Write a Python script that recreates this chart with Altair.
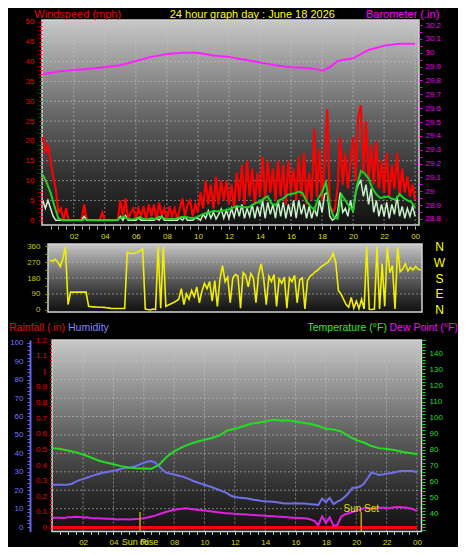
import altair as alt
import pandas as pd

# ------------------------------------------------------------------ texts
MAIN_TITLE = "24 hour graph day : June 18 2026"
WIND_TITLE = "Windspeed (mph)"
BARO_TITLE = "Barometer (.in)"
RAIN_TITLE = "Rainfall (.in)"
HUM_TITLE = "Humidity"
TEMP_TITLE = "Temperature (°F)"
DEW_TITLE = "Dew Point (°F)"

# ------------------------------------------------------------------ data
# wind gust (mph), 10-minute samples 00:00 .. 24:00
GUST_MPH = [21, 17, 19, 15, 11, 8, 2, 3, 0, 3, 0, 0, 0, 0, 0, 0, 4, 0, 0, 0, 0, 0, 0, 2, 0, 0, 0, 0, 0, 0,
            5, 1, 5.5, 0, 2, 3, 0, 3, 1, 3.5, 0, 4, 1, 4, 0, 4.5, 1, 3, 0, 3.5, 1, 3, 0, 3, 5.5, 1, 4, 5, 1, 4,
            2, 7, 3, 10, 4, 9, 3, 11, 4, 10, 5, 10, 4, 9, 3, 12, 5, 14, 4, 15, 6, 13, 4, 12, 6, 16, 5, 15, 7, 13,
            5, 15, 6, 14, 4, 15, 7, 13, 5, 16, 6, 17, 4, 12, 5, 23, 6, 18, 5, 14, 28, 4, 2, 3, 8, 21, 9, 17, 8, 15,
            21, 10, 26, 29, 12, 25, 10, 19, 9, 20, 8, 15, 7, 17, 6, 14, 8, 17, 6, 13, 7, 11, 6, 9, 5]
# wind speed (mph), 10-minute samples
WIND_MPH = [5, 3, 5, 3, 1, 0, 0, 0, 0, 0, 0, 0, 0, 0, 0, 0, 1, 0, 0, 0, 0, 0, 0, 0, 0, 0, 0, 0, 0, 0,
            1, 0, 1.2, 0, 0, 0, 0, 0.6, 0, 0, 0, 0, 0, 0, 0.5, 0, 1, 0, 0, 0, 0, 0, 0, 0.6, 0, 0.8, 0, 0, 0, 0.5,
            0.5, 0, 1.5, 0.5, 2.4, 0.5, 2, 0.3, 1.5, 2.8, 0.5, 2.5, 0.5, 3, 0.8, 3.5, 1, 4, 0.5, 3, 1, 4, 0.5, 3.5, 1, 5, 0.5, 4.5, 1.5, 4,
            0.5, 5, 1, 4.5, 0.5, 4, 1, 5, 0.5, 5, 1.5, 4, 0.5, 3.5, 0.5, 3, 1, 5, 2, 6.5, 7, 1, 0, 0.5, 2, 7, 2, 3, 1, 5,
            2, 7, 9, 10, 6, 9, 4, 8, 2, 5, 1, 4, 1, 4.5, 0.5, 4, 1.5, 6, 1, 3.5, 0.5, 3, 1, 3.5, 1]
# average wind (mph), 15-minute samples
AVG_MPH = [11.5, 9.5, 7, 3.6, 0.5, 0, 0, 0, 0, 0, 0, 0.3, 0, 0, 0, 0, 0, 0, 0, 0,
           0.6, 0.9, 0.3, 0.2, 0.4, 0.8, 0.3, 0.2, 0.5, 0.3, 0.9, 0.6, 0.2, 0.4, 0.3, 0.6, 0.9, 0.8, 0.6, 0.5,
           0.9, 1.4, 1.8, 2.0, 2.4, 2.2, 2.4, 2.5, 2.7, 3.2, 3.6, 3.4, 3.3, 3.2, 3.8, 4.4, 4.6, 5.5, 6.0, 4.2,
           3.8, 5.0, 5.5, 6.4, 6.6, 6.8, 7.2, 6.8, 4.8, 3.5, 2.6, 5.5, 7.0, 9.6, 3.5, 0.8, 0.4, 6.5, 5.0, 3.5,
           2.4, 8.8, 12.4, 11.8, 10.5, 8.0, 6.5, 5.6, 5.8, 6.0, 5.4, 5.2, 6.6, 5.6, 5.0, 4.6, 3.2]
# barometer (in)
BARO_HOURS = [0, 1, 2, 3, 4, 5, 6, 7, 8, 9, 10, 11, 12, 13, 14, 15, 16, 17, 17.5, 18, 18.5, 19, 20, 21, 22, 23, 24]
BARO_IN = [29.845, 29.865, 29.875, 29.885, 29.895, 29.91, 29.94, 29.97, 29.99, 30.0, 30.0, 29.98, 29.97, 29.95,
           29.93, 29.91, 29.895, 29.89, 29.885, 29.87, 29.895, 29.94, 29.96, 30.02, 30.05, 30.065, 30.065]
# wind direction (deg), 10-minute samples
DIR_DEG = [280, 275, 285, 270, 245, 290, 355, 30, 100, 100, 100, 100, 100, 100, 100, 20, 18, 17, 16, 15,
           15, 14, 12, 10, 8, 8, 8, 8, 8, 8,
           325, 320, 318, 320, 325, 335, 345, 5, 2, 0, 5, 2, 358, 10, 355, 20, 28, 35, 42, 50,
           60, 120, 30, 90, 60, 110, 75, 130, 40, 105,
           150, 120, 160, 50, 165, 20, 175, 250, 160, 185, 40, 180, 200, 190, 10, 210, 195, 130, 205, 180,
           40, 200, 260, 175, 30, 190, 160, 200, 20, 175,
           150, 185, 10, 180, 160, 195, 40, 170, 180, 5, 165, 190, 200, 215, 225, 240, 250, 260, 270, 290,
           320, 265, 110, 90, 60, 30, 15, 70, 10, 50,
           8, 60, 5, 358, 3, 2, 5, 355, 5, 260, 20, 355, 210, 250, 5, 355, 215, 230, 260, 220,
           240, 225, 245, 230, 225]
# temperature (F), 30-minute samples
TEMP_F = [81, 80.5, 79.5, 78.5, 77, 75.2, 73.3, 72, 71, 69.8, 69, 68.5, 68.3, 68.1, 70.5, 75.5, 79, 81.5, 83.5,
          85, 86.2, 87.3, 89, 92, 93, 94.5, 96, 96.8, 97.6, 98.6, 98.2, 98.3, 97.6, 96.8, 96, 94.8, 93, 92.6,
          91.4, 88.5, 86, 84.5, 82.3, 81, 80.5, 79.8, 78.8, 78, 77.3]
# humidity (%), 15-minute samples
HUM_PCT = [23, 23, 23, 23, 23, 23.5, 24.5, 25.5, 26, 26.8, 27.5, 28.2, 28.8, 29.5, 29.8, 30.2, 30.5, 31, 31.6, 32,
           32.2, 32.6, 33.2, 34, 34.8, 35.6, 35.8, 35, 33, 31, 29.5, 29, 28.5, 28, 27.5, 26.8, 26, 25, 24.3, 23.6,
           23, 22.3, 21.6, 20.8, 20, 19.2, 18.3, 17, 16.3, 16, 15.8, 15.6, 15.2, 14.8, 14.5, 14.2, 14, 13.9, 13.7, 13.5,
           13.2, 12.8, 12.8, 12.8, 12.9, 12.8, 12.8, 12.6, 12.4, 12.2, 12, 15.5, 13.5, 15.8, 12.5, 13.8, 14.8, 16.5, 18.5, 21.3,
           21.3, 22, 23.5, 26.5, 29.5, 29, 28.3, 28.5, 29, 29.2, 29.6, 30.2, 30.4, 30.4, 30.4, 30.4, 29.7]
# dew point (F), 15-minute samples
DEW_F = [37.7, 37.6, 37.7, 37.5, 37.9, 38, 38.3, 38.2, 37.8, 37.9, 37.5, 37.3, 37.4, 37.2, 37, 37.1, 36.9, 36.6, 36.8, 36.7,
         36.6, 36.8, 36.9, 37, 37.4, 37.8, 38.4, 39, 39.8, 40.6, 41.4, 42, 42.6, 43, 43.3, 43.5, 43.2, 42.9, 42.6, 42.4,
         42.2, 41.8, 41.5, 41.2, 41.0, 40.6, 40.4, 40.3, 40.1, 40, 39.9, 39.7, 39.5, 39.4, 39.2, 39.1, 38.9, 38.8, 38.6, 38.4,
         38.3, 38.1, 37.9, 37.7, 37.6, 37.5, 37.4, 37.2, 36.6, 35.6, 33, 38.5, 34.5, 38, 32.7, 33, 38.3, 39.8, 40.5, 41.2,
         42, 42.8, 43.5, 43.5, 43.6, 43.3, 43.8, 44.1, 43.6, 43.8, 44.2, 44.4, 44.2, 44, 43.6, 43, 41.8]
RAIN_HOURS = [0, 24]
RAIN_IN = [0.0, 0.0]
SUN_EVENTS = ["Sun Rise", "Sun Set"]
SUN_HOURS = [5.75, 20.33]

# ------------------------------------------------------------------ ticks / labels
HOUR_TICKS = [2, 4, 6, 8, 10, 12, 14, 16, 18, 20, 22, 24]
HOUR_LABELS = ["02", "04", "06", "08", "10", "12", "14", "16", "18", "20", "22", "00"]
HALF_HOUR_TICKS = [i / 2 for i in range(1, 49)]
WIND_TICKS = list(range(0, 51))
WIND_LABEL_VALUES = [0, 5, 10, 15, 20, 25, 30, 35, 40, 45, 50]
WIND_LABELS = ["0", "5", "10", "15", "20", "25", "30", "35", "40", "45", "50"]
BARO_TICKS = [round(28.8 + 0.05 * i, 2) for i in range(29)]
BARO_LABEL_VALUES = [28.8, 28.9, 29.0, 29.1, 29.2, 29.3, 29.4, 29.5, 29.6, 29.7, 29.8, 29.9, 30.0, 30.1, 30.2]
BARO_LABELS = ["28.8", "28.9", "29", "29.1", "29.2", "29.3", "29.4", "29.5", "29.6", "29.7", "29.8", "29.9",
               "30", "30.1", "30.2"]
DIR_TICKS = [0, 45, 90, 135, 180, 225, 270, 315, 360]
DIR_LABEL_VALUES = [0, 90, 180, 270, 360]
DIR_LABELS = ["0", "90", "180", "270", "360"]
COMPASS = ["N", "E", "S", "W", "N"]
HUM_TICKS = list(range(0, 101, 2))
HUM_LABEL_VALUES = [0, 10, 20, 30, 40, 50, 60, 70, 80, 90, 100]
HUM_LABELS = ["0", "10", "20", "30", "40", "50", "60", "70", "80", "90", "100"]
RAIN_TICKS = [round(0.025 * i, 3) for i in range(49)]
RAIN_LABEL_VALUES = [0, 0.1, 0.2, 0.3, 0.4, 0.5, 0.6, 0.7, 0.8, 0.9, 1.0, 1.1, 1.2]
RAIN_LABELS = ["0", "0.1", "0.2", "0.3", "0.4", "0.5", "0.6", "0.7", "0.8", "0.9", "1", "1.1", "1.2"]
TEMP_TICKS = list(range(30, 149, 2))
TEMP_LABEL_VALUES = [40, 50, 60, 70, 80, 90, 100, 110, 120, 130, 140]
TEMP_LABELS = ["40", "50", "60", "70", "80", "90", "100", "110", "120", "130", "140"]

# ------------------------------------------------------------------ layout (canvas px)
W, H = 450, 539
FONT = "Liberation Sans"

TOP_XDOM, TOP_XRNG = [-0.05, 24.25], [34, 411]
WIND_DOM, TOP_YRNG = [-1.2, 50.5], [217, 12]
BARO_DOM = [28.7567, 30.2361]
MID_XDOM, MID_XRNG = [-0.13, 24.08], [40, 414]
DIR_DOM, MID_YRNG = [-12, 372], [304, 236]
BOT_XDOM, BOT_XRNG = [-0.05, 24.3], [44, 413.5]
HUM_DOM, BOT_YRNG = [-2.4, 101.5], [523.5, 332]
TEMP_DOM = [29.1, 148.3]
RAIN_DOM = [-0.0255, 1.2]


def sc(dom, rng):
    return alt.Scale(domain=dom, range=rng, nice=False, zero=False)


def lab_expr(values, labels):
    expr = "''"
    for v, l in reversed(list(zip(values, labels))):
        expr = f"abs(datum.value - {v}) < 0.001 ? '{l}' : {expr}"
    return expr


def axis(orient, offset, values, lvals, labels, color, tcolor=None, pad=3, size=3, **kw):
    return alt.Axis(orient=orient, offset=offset, values=values, labelExpr=lab_expr(lvals, labels),
                    labelColor=color, tickColor=tcolor or color, tickSize=size, tickWidth=1,
                    labelFont=FONT, labelFontSize=8, labelPadding=pad, labelOverlap=False,
                    labelFlush=False, labelBound=False, grid=False, title=None, zindex=2,
                    **({"domain": False} | kw))


GRAD = alt.LinearGradient(gradient="linear", x1=0, x2=0, y1=0, y2=1,
                          stops=[alt.GradientStop(color="#c8c8c8", offset=0),
                                 alt.GradientStop(color="#939393", offset=0.25),
                                 alt.GradientStop(color="#5e5e5e", offset=0.5),
                                 alt.GradientStop(color="#333333", offset=0.75),
                                 alt.GradientStop(color="#111111", offset=1)])


def background(xs, ys, xdom, ydom):
    df = pd.DataFrame({"x0": [xdom[0]], "x1": [xdom[1]], "y0": [ydom[0]], "y1": [ydom[1]]})
    return alt.Chart(df).mark_rect(fill=GRAD, stroke="#d4d4d4", strokeWidth=1.5).encode(
        x=alt.X("x0:Q", scale=xs, axis=None), x2="x1:Q",
        y=alt.Y("y0:Q", scale=ys, axis=None), y2="y1:Q")


def vgrid(xs, ys, ydom, values):
    df = pd.DataFrame({"v": values, "lo": ydom[0], "hi": ydom[1]})
    return alt.Chart(df).mark_rule(color="#c8c8c8", strokeDash=[2, 2], strokeWidth=1, opacity=0.55).encode(
        x=alt.X("v:Q", scale=xs, axis=None), y=alt.Y("lo:Q", scale=ys, axis=None), y2="hi:Q")


def hgrid(xs, ys, xdom, values, yaxis=None):
    df = pd.DataFrame({"v": values, "lo": xdom[0], "hi": xdom[1]})
    return alt.Chart(df).mark_rule(color="#c8c8c8", strokeDash=[2, 2], strokeWidth=1, opacity=0.55).encode(
        y=alt.Y("v:Q", scale=ys, axis=yaxis), x=alt.X("lo:Q", scale=xs, axis=None), x2="hi:Q")


def line(df, xcol, ycol, xs, ys, color, width, xaxis=None, yaxis=None):
    return alt.Chart(df).mark_line(color=color, strokeWidth=width).encode(
        x=alt.X(f"{xcol}:Q", scale=xs, axis=xaxis), y=alt.Y(f"{ycol}:Q", scale=ys, axis=yaxis))


def text(s, x, y, color, size, align="left", baseline="alphabetic"):
    return alt.Chart(pd.DataFrame({"t": [s]})).mark_text(
        color=color, fontSize=size, font=FONT, align=align, baseline=baseline).encode(
        x=alt.value(x), y=alt.value(y), text="t:N")


# ------------------------------------------------------------------ frames
t10 = [i / 6 for i in range(len(GUST_MPH))]
t15 = [i / 4 for i in range(len(AVG_MPH))]
t30 = [i / 2 for i in range(len(TEMP_F))]
wind_df = pd.DataFrame({"h": t10, "gust": GUST_MPH, "speed": WIND_MPH, "dir": DIR_DEG})
avg_df = pd.DataFrame({"h": t15, "avg": AVG_MPH, "hum": HUM_PCT, "dew": DEW_F})
baro_df = pd.DataFrame({"h": BARO_HOURS, "baro": BARO_IN})
temp_df = pd.DataFrame({"h": t30, "temp": TEMP_F})
rain_df = pd.DataFrame({"h": RAIN_HOURS, "rain": RAIN_IN})
sun_df = pd.DataFrame({"event": SUN_EVENTS, "h": SUN_HOURS, "top": 41.2, "bot": TEMP_DOM[0]})

# ------------------------------------------------------------------ scales
tx, wy, by = sc(TOP_XDOM, TOP_XRNG), sc(WIND_DOM, TOP_YRNG), sc(BARO_DOM, TOP_YRNG)
mx, dy = sc(MID_XDOM, MID_XRNG), sc(DIR_DOM, MID_YRNG)
bx, hy, ty, ry = sc(BOT_XDOM, BOT_XRNG), sc(HUM_DOM, BOT_YRNG), sc(TEMP_DOM, BOT_YRNG), sc(RAIN_DOM, BOT_YRNG)

hour_axis_top = axis("bottom", 218 - H, HALF_HOUR_TICKS, HOUR_TICKS, HOUR_LABELS, "#dede00", "#bdbdbd", pad=3)
hour_axis_bot = axis("bottom", 523.5 - H, HALF_HOUR_TICKS, HOUR_TICKS, HOUR_LABELS, "#dede00", "#bdbdbd", pad=4)
wind_axis = axis("left", -34, WIND_TICKS, WIND_LABEL_VALUES, WIND_LABELS, "#ee0000", pad=5)
baro_axis = axis("right", 411 - W, BARO_TICKS, BARO_LABEL_VALUES, BARO_LABELS, "#ee00ee", pad=3)
dir_axis = axis("left", -40, DIR_TICKS, DIR_LABEL_VALUES, DIR_LABELS, "#c8c800", "#a8a800", pad=5)
compass_axis = alt.Axis(orient="right", offset=414 - W, values=DIR_LABEL_VALUES,
                        labelExpr=lab_expr(DIR_LABEL_VALUES, COMPASS), labelColor="#ffff00",
                        labelFont=FONT, labelFontSize=12, labelAlign="center", labelPadding=17,
                        tickSize=0, domain=False, grid=False, title=None, labelOverlap=False,
                        labelBound=False, zindex=2)
hum_axis = axis("left", -22, HUM_TICKS, HUM_LABEL_VALUES, HUM_LABELS, "#7474ff", "#6464ee", pad=4,
                domain=True, domainColor="#6464ee", domainWidth=2)
rain_axis = axis("left", -43.5, RAIN_TICKS, RAIN_LABEL_VALUES, RAIN_LABELS, "#ee0000", pad=3, size=2)
temp_axis = axis("right", 414 - W, TEMP_TICKS, TEMP_LABEL_VALUES, TEMP_LABELS, "#22dd22", pad=4)

layers = [
    # ---- top panel
    background(tx, wy, TOP_XDOM, WIND_DOM),
    vgrid(tx, wy, WIND_DOM, HOUR_TICKS),
    hgrid(tx, wy, TOP_XDOM, WIND_LABEL_VALUES[1:]),
    line(wind_df, "h", "gust", tx, wy, "#ff0000", 2.1, xaxis=hour_axis_top, yaxis=wind_axis),
    line(wind_df, "h", "speed", tx, wy, "#c8f2c8", 1.5),
    line(avg_df, "h", "avg", tx, wy, "#20d020", 2),
    line(baro_df, "h", "baro", tx, by, "#ff20ff", 2, yaxis=baro_axis),
    # ---- middle panel
    background(mx, dy, MID_XDOM, DIR_DOM),
    hgrid(mx, dy, MID_XDOM, [90, 180, 270], yaxis=compass_axis),
    line(wind_df, "h", "dir", mx, dy, "#f0f000", 1.6, yaxis=dir_axis),
    # ---- bottom panel
    background(bx, hy, BOT_XDOM, HUM_DOM),
    vgrid(bx, hy, HUM_DOM, HOUR_TICKS),
    hgrid(bx, hy, BOT_XDOM, HUM_LABEL_VALUES[1:]),
    line(rain_df, "h", "rain", bx, ry, "#ff0000", 3, yaxis=rain_axis),
    line(avg_df, "h", "hum", bx, hy, "#7070e8", 2, xaxis=hour_axis_bot, yaxis=hum_axis),
    line(temp_df, "h", "temp", bx, ty, "#22dd22", 2, yaxis=temp_axis),
    line(avg_df, "h", "dew", bx, ty, "#e020e0", 2),
    alt.Chart(sun_df).mark_rule(color="#c8a400", strokeWidth=1.5).encode(
        x=alt.X("h:Q", scale=bx, axis=None), y=alt.Y("top:Q", scale=ty, axis=None), y2="bot:Q"),
    alt.Chart(sun_df).transform_filter(alt.datum.event == "Sun Set").mark_text(
        color="#e0e000", fontSize=10, font=FONT, baseline="middle").encode(
        x=alt.X("h:Q", scale=bx, axis=None), y=alt.value(500.5), text="event:N"),
    alt.Chart(sun_df).transform_filter(alt.datum.event == "Sun Rise").mark_text(
        color="#e0e000", fontSize=9, font=FONT, baseline="middle").encode(
        x=alt.X("h:Q", scale=bx, axis=None), y=alt.value(534), text="event:N"),
    # ---- titles
    text(WIND_TITLE, 26.3, 10, "#ee0000", 11),
    text(MAIN_TITLE, 244.3, 10, "#ffff00", 11, align="center"),
    text(BARO_TITLE, 431.3, 10, "#ff00ff", 11, align="right"),
    text(RAIN_TITLE, 1, 322.5, "#ee0000", 10.5),
    text(HUM_TITLE, 60, 322.5, "#8484ff", 10.5),
    text(TEMP_TITLE, 299.5, 322.5, "#22ee22", 10.5),
    text(DEW_TITLE, 381.5, 322.5, "#ff00ff", 10.5),
]

chart = alt.layer(*layers).resolve_scale(x="independent", y="independent").properties(
    width=W, height=H, padding=0, autosize=alt.AutoSizeParams(type="none"), background="black"
).configure_view(stroke=None)

chart.save("out.html", embed_options={"renderer": "svg", "actions": False})
